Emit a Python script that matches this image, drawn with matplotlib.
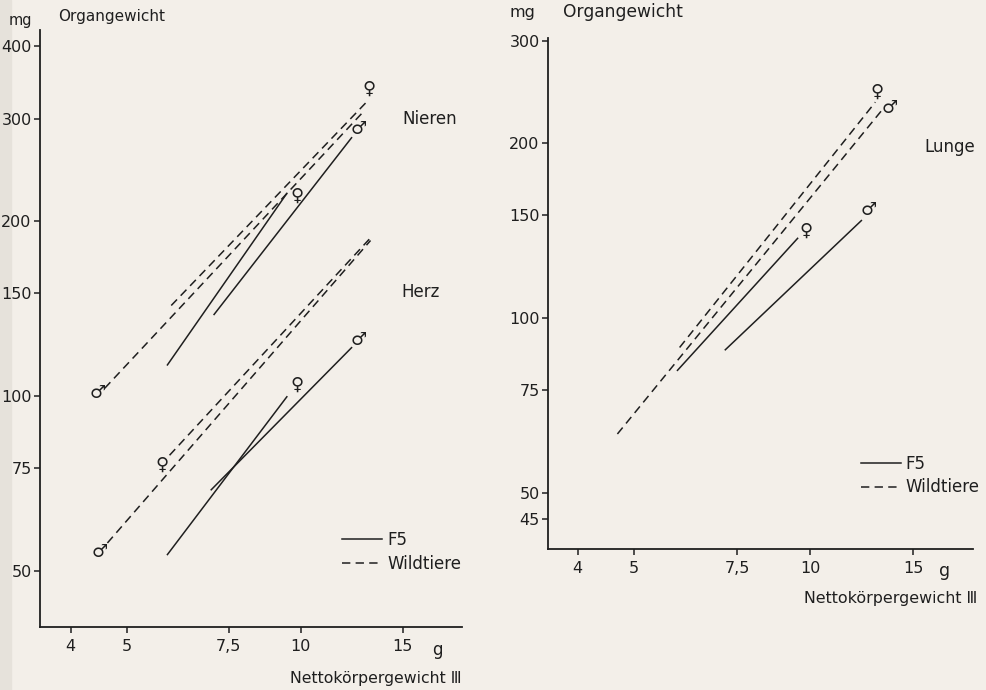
import matplotlib
matplotlib.use("Agg")
import matplotlib.pyplot as plt
from matplotlib.lines import Line2D
from matplotlib.patches import Rectangle
from matplotlib.ticker import NullLocator

plt.rcParams["font.family"] = ["DejaVu Sans"]
plt.rcParams["lines.scale_dashes"] = False

# axis ticks
x_ticks = [4, 5, 7.5, 10, 15]
x_tick_labels = ["4", "5", "7,5", "10", "15"]
left_y_ticks = [50, 75, 100, 150, 200, 300, 400]
right_y_ticks = [45, 50, 75, 100, 150, 200, 300]

# left panel: Nieren + Herz (x = Nettokoerpergewicht g, y = Organgewicht mg)
nieren_wild_w_x = [5.97, 13.1]
nieren_wild_w_y = [143, 323]
nieren_wild_m_x = [4.58, 12.9]
nieren_wild_m_y = [103, 310]
nieren_f5_w_x = [5.88, 9.46]
nieren_f5_w_y = [113, 223]
nieren_f5_m_x = [7.08, 12.24]
nieren_f5_m_y = [138, 278]

herz_wild_w_x = [5.93, 13.2]
herz_wild_w_y = [79, 187]
herz_wild_m_x = [4.63, 13.2]
herz_wild_m_y = [55.8, 185]
herz_f5_w_x = [5.88, 9.46]
herz_f5_w_y = [53.3, 99.6]
herz_f5_m_x = [7.0, 12.24]
herz_f5_m_y = [68.9, 121]

# right panel: Lunge
lunge_wild_w_x = [5.98, 12.93]
lunge_wild_w_y = [88.9, 235]
lunge_wild_m_x = [4.68, 13.24]
lunge_wild_m_y = [63.1, 227]
lunge_f5_w_x = [5.93, 9.52]
lunge_f5_w_y = [81.2, 137]
lunge_f5_m_x = [7.16, 12.24]
lunge_f5_m_y = [88.1, 147]

# sex symbols at the line ends
left_sym = ["\u2640", "\u2642", "\u2640", "\u2642", "\u2642", "\u2640", "\u2640", "\u2642"]
left_sym_x = [13.1, 12.6, 9.84, 4.45, 12.6, 9.84, 5.76, 4.49]
left_sym_y = [338, 288, 221, 101, 124.8, 104.4, 76.1, 53.9]
right_sym = ["\u2640", "\u2642", "\u2640", "\u2642"]
right_sym_x = [13.0, 13.7, 9.84, 12.6]
right_sym_y = [245, 230, 141, 153]

PAPER = "#f3efe9"
INK = "#1f1f1f"
DASH = (0, (6, 3.8))
LW = 1.1


def setup_axes(ax, xlim, ylim, yticks):
    ax.set_facecolor("none")
    ax.set_xscale("log")
    ax.set_yscale("log")
    ax.set_xlim(*xlim)
    ax.set_ylim(*ylim)
    ax.set_xticks(x_ticks)
    ax.set_xticklabels(x_tick_labels)
    ax.set_yticks(yticks)
    ax.set_yticklabels([str(t) for t in yticks])
    ax.xaxis.set_minor_locator(NullLocator())
    ax.yaxis.set_minor_locator(NullLocator())
    for side in ["top", "right"]:
        ax.spines[side].set_visible(False)
    for side in ["left", "bottom"]:
        ax.spines[side].set_linewidth(1.3)
        ax.spines[side].set_color(INK)
    ax.tick_params(direction="out", length=4.5, width=1.1, color=INK,
                   labelsize=11.5, labelcolor=INK)
    ax.tick_params(axis="x", pad=4)
    ax.tick_params(axis="y", pad=1.5)


def add_legend(ax, anchor):
    handles = [Line2D([], [], color=INK, lw=LW),
               Line2D([], [], color=INK, lw=LW, linestyle=DASH)]
    ax.legend(handles, ["F5", "Wildtiere"], frameon=False, loc="center left",
              bbox_to_anchor=anchor, borderpad=0, borderaxespad=0,
              handlelength=2.4, handletextpad=0.3, labelspacing=0.35,
              fontsize=12, labelcolor=INK)


fig = plt.figure(figsize=(9.87, 6.9), dpi=100, facecolor=PAPER)
# darker strip of the scan at the left edge
fig.patches.append(Rectangle((0, 0), 11 / 987, 1, transform=fig.transFigure,
                             color="#e6e2db", zorder=-10))

# ---- left panel
ax1 = fig.add_axes([0.0405, 0.0913, 0.4276, 0.8652])
setup_axes(ax1, (3.54, 19), (40, 426), left_y_ticks)

for xs, ys in [(nieren_wild_w_x, nieren_wild_w_y), (nieren_wild_m_x, nieren_wild_m_y),
               (herz_wild_w_x, herz_wild_w_y), (herz_wild_m_x, herz_wild_m_y)]:
    ax1.plot(xs, ys, color=INK, lw=LW, linestyle=DASH)
for xs, ys in [(nieren_f5_w_x, nieren_f5_w_y), (nieren_f5_m_x, nieren_f5_m_y),
               (herz_f5_w_x, herz_f5_w_y), (herz_f5_m_x, herz_f5_m_y)]:
    ax1.plot(xs, ys, color=INK, lw=LW)
for s, x, y in zip(left_sym, left_sym_x, left_sym_y):
    ax1.text(x, y, s, ha="center", va="center", fontsize=13, color=INK)

ax1.text(15.0, 300, "Nieren", ha="left", va="center", fontsize=12, color=INK)
ax1.text(14.9, 151, "Herz", ha="left", va="center", fontsize=12, color=INK)
add_legend(ax1, (0.716, 0.126))

fig.text(20 / 987, 1 - 20 / 690, "mg", ha="center", va="center", fontsize=10.5, color=INK)
fig.text(58 / 987, 1 - 17 / 690, "Organgewicht", ha="left", va="center", fontsize=11, color=INK)
fig.text(437 / 987, 1 - 650 / 690, "g", ha="center", va="center", fontsize=12, color=INK)
fig.text(462 / 987, 1 - 678 / 690, "Nettok\u00f6rpergewicht \u2162", ha="right", va="center",
         fontsize=11.3, color=INK)

# ---- right panel
ax2 = fig.add_axes([0.5552, 0.2043, 0.4306, 0.7406])
setup_axes(ax2, (3.56, 19), (40, 303), right_y_ticks)

for xs, ys in [(lunge_wild_w_x, lunge_wild_w_y), (lunge_wild_m_x, lunge_wild_m_y)]:
    ax2.plot(xs, ys, color=INK, lw=LW, linestyle=DASH)
for xs, ys in [(lunge_f5_w_x, lunge_f5_w_y), (lunge_f5_m_x, lunge_f5_m_y)]:
    ax2.plot(xs, ys, color=INK, lw=LW)
for s, x, y in zip(right_sym, right_sym_x, right_sym_y):
    ax2.text(x, y, s, ha="center", va="center", fontsize=13, color=INK)

ax2.text(15.7, 197, "Lunge", ha="left", va="center", fontsize=12, color=INK)
add_legend(ax2, (0.736, 0.144))

fig.text(522 / 987, 1 - 13 / 690, "mg", ha="center", va="center", fontsize=11.5, color=INK)
fig.text(563 / 987, 1 - 12 / 690, "Organgewicht", ha="left", va="center", fontsize=12.3, color=INK)
fig.text(945 / 987, 1 - 571 / 690, "g", ha="center", va="center", fontsize=12.5, color=INK)
fig.text(977 / 987, 1 - 598 / 690, "Nettok\u00f6rpergewicht \u2162", ha="right", va="center",
         fontsize=11.4, color=INK)

fig.savefig("out.png", dpi=100, facecolor=PAPER)
